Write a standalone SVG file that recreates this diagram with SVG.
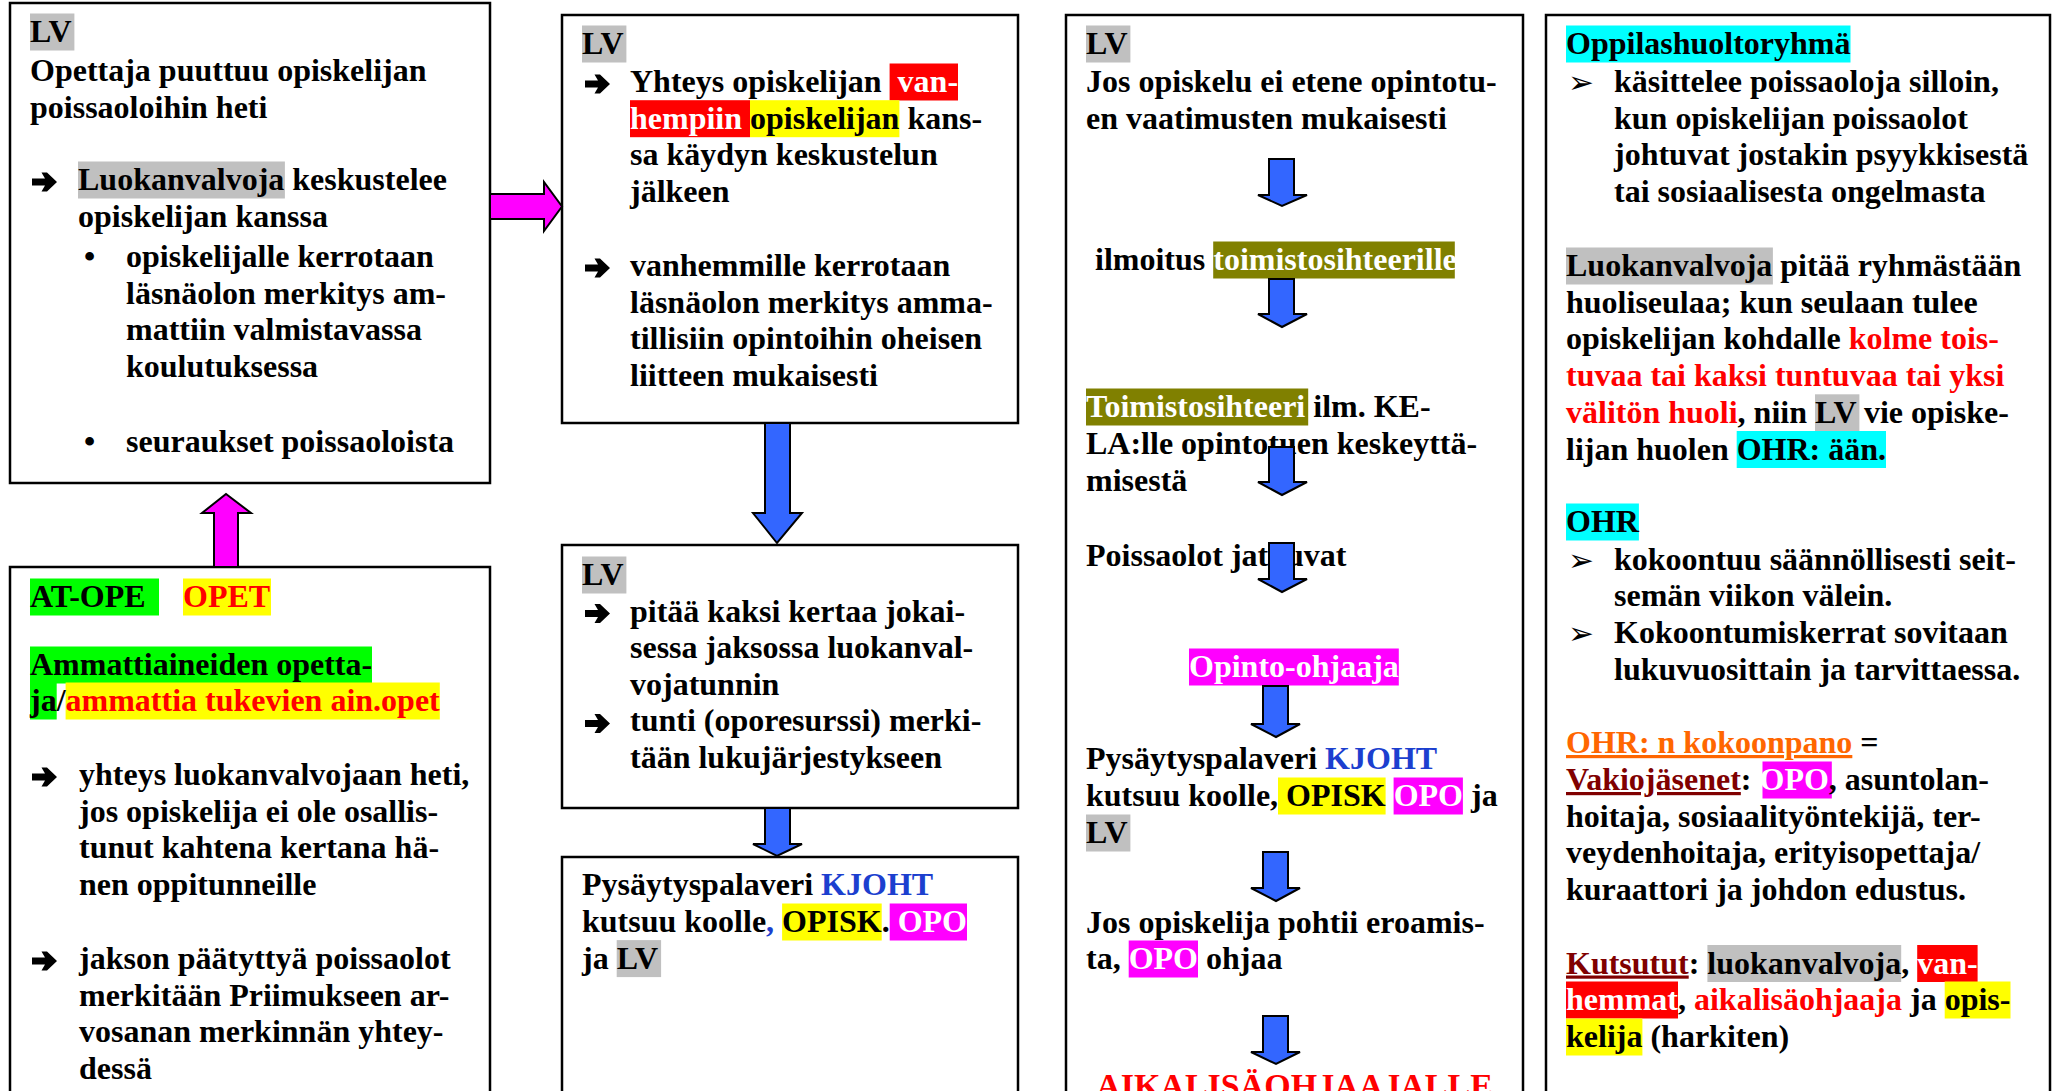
<svg xmlns="http://www.w3.org/2000/svg" xmlns:xlink="http://www.w3.org/1999/xlink" width="2054" height="1091" viewBox="0 0 2054 1091">
<style>
.box{fill:#fff;stroke:#000;stroke-width:2.5}
text{font-family:"Liberation Serif","Times New Roman",serif;font-weight:bold;font-size:32px;fill:#000}
.sym{font-family:"DejaVu Sans",sans-serif;font-weight:normal;font-size:31px}
.wt{fill:#fff}
.rd{fill:#f00}
.bu{fill:#1c3fcf}
.or{fill:#ff6600;text-decoration:underline}
.dr{fill:#800000;text-decoration:underline}
.hg{fill:#c0c0c0}
.hy{fill:#ffff00}
.hgr{fill:#00ff00}
.hr{fill:#ff0000}
.hm{fill:#ff00ff}
.hc{fill:#00ffff}
.ho{fill:#808000}
.ab{fill:#3366ff;stroke:#000;stroke-width:2;stroke-linejoin:miter}
.am{fill:#ff00ff;stroke:#000;stroke-width:2;stroke-linejoin:miter}
</style>
<defs>
<polygon id="barr" fill="#000" points="0,-11.5 13,-11.5 9.5,-17.5 15,-17.5 25,-8 15,1.5 9.5,1.5 13,-4.5 0,-4.5"/>
</defs>
<rect width="2054" height="1091" fill="#fff"/>

<g id="node-lv-opettaja">
<rect class="box" x="10" y="3" width="480" height="480"/>
<rect class="hg" x="30" y="13.5" width="44.4" height="37"/>
<text x="30" y="42">LV</text>
<text x="30" y="81">Opettaja puuttuu opiskelijan</text>
<text x="30" y="117.5">poissaoloihin heti</text>
<use xlink:href="#barr" x="32" y="190"/>
<rect class="hg" x="78" y="161.5" width="206.9" height="37"/>
<text x="78" y="190">Luokanvalvoja keskustelee</text>
<text x="78" y="226.5">opiskelijan kanssa</text>
<text x="84" y="267">•</text>
<text x="126" y="267">opiskelijalle kerrotaan</text>
<text x="126" y="303.5">läsnäolon merkitys am-</text>
<text x="126" y="340">mattiin valmistavassa</text>
<text x="126" y="376.5">koulutuksessa</text>
<text x="84" y="452">•</text>
<text x="126" y="452">seuraukset poissaoloista</text>
</g>

<g id="node-at-ope">
<rect class="box" x="10" y="567" width="480" height="540"/>
<rect class="hgr" x="30" y="578.5" width="129" height="37"/>
<rect class="hy" x="183" y="578.5" width="88" height="37"/>
<text x="30" y="607">AT-OPE</text>
<text class="rd" x="183" y="607">OPET</text>
<rect class="hgr" x="30" y="646.5" width="342" height="37"/>
<text x="30" y="675">Ammattiaineiden opetta-</text>
<rect class="hgr" x="30" y="682.5" width="26.7" height="37"/>
<rect class="hy" x="65.6" y="682.5" width="374.2" height="37"/>
<text x="30" y="711">ja/<tspan class="rd">ammattia tukevien ain.opet</tspan></text>
<use xlink:href="#barr" x="32" y="785"/>
<text x="79" y="785">yhteys luokanvalvojaan heti,</text>
<text x="79" y="821.5">jos opiskelija ei ole osallis-</text>
<text x="79" y="858">tunut kahtena kertana hä-</text>
<text x="79" y="894.5">nen oppitunneille</text>
<use xlink:href="#barr" x="32" y="969"/>
<text x="79" y="969">jakson päätyttyä poissaolot</text>
<text x="79" y="1005.5">merkitään Priimukseen ar-</text>
<text x="79" y="1042">vosanan merkinnän yhtey-</text>
<text x="79" y="1078.5">dessä</text>
</g>

<g id="node-lv-vanhemmat">
<rect class="box" x="562" y="15" width="456" height="408"/>
<rect class="hg" x="582" y="25.5" width="44.4" height="37"/>
<text x="582" y="54">LV</text>
<use xlink:href="#barr" x="585" y="92"/>
<text x="630" y="92">Yhteys opiskelijan</text>
<rect class="hr" x="889.6" y="63.5" width="68.4" height="37"/>
<text class="wt" x="897.6" y="92">van-</text>
<rect class="hr" x="630" y="100.2" width="120" height="37"/>
<rect class="hy" x="750" y="100.2" width="149.4" height="37"/>
<text x="630" y="128.7"><tspan class="wt">hempiin</tspan> opiskelijan kans-</text>
<text x="630" y="165.4">sa käydyn keskustelun</text>
<text x="630" y="202">jälkeen</text>
<use xlink:href="#barr" x="585" y="276"/>
<text x="630" y="276">vanhemmille kerrotaan</text>
<text x="630" y="312.7">läsnäolon merkitys amma-</text>
<text x="630" y="349.4">tillisiin opintoihin oheisen</text>
<text x="630" y="386">liitteen mukaisesti</text>
</g>

<g id="node-lv-tunti">
<rect class="box" x="562" y="545" width="456" height="263"/>
<rect class="hg" x="582" y="556.5" width="44.4" height="37"/>
<text x="582" y="585">LV</text>
<use xlink:href="#barr" x="585" y="621.5"/>
<text x="630" y="621.5">pitää kaksi kertaa jokai-</text>
<text x="630" y="658">sessa jaksossa luokanval-</text>
<text x="630" y="694.7">vojatunnin</text>
<use xlink:href="#barr" x="585" y="731.4"/>
<text x="630" y="731.4">tunti (oporesurssi) merki-</text>
<text x="630" y="768">tään lukujärjestykseen</text>
</g>

<g id="node-pysaytys">
<rect class="box" x="562" y="857" width="456" height="250"/>
<text x="582" y="895">Pysäytyspalaveri <tspan class="bu">KJOHT</tspan></text>
<rect class="hy" x="782.1" y="903.5" width="99.6" height="37"/>
<rect class="hm" x="889.7" y="903.5" width="77.3" height="37"/>
<text x="582" y="932">kutsuu koolle<tspan class="bu">,</tspan> OPISK. <tspan class="wt">OPO</tspan></text>
<rect class="hg" x="616.7" y="940.1" width="44.4" height="37"/>
<text x="582" y="968.6">ja LV</text>
</g>

<g id="node-lv-opinnot">
<rect class="box" x="1066" y="15" width="457" height="1100"/>
<rect class="hg" x="1086" y="25.5" width="44.4" height="37"/>
<text x="1086" y="54">LV</text>
<text x="1086" y="92">Jos opiskelu ei etene opintotu-</text>
<text x="1086" y="129">en vaatimusten mukaisesti</text>
<rect class="ho" x="1213.2" y="241.5" width="241.6" height="37"/>
<text x="1095" y="270">ilmoitus <tspan class="wt">toimistosihteerille</tspan></text>
<rect class="ho" x="1086" y="388.5" width="222.2" height="37"/>
<text x="1086" y="417"><tspan class="wt">Toimistosihteeri</tspan> ilm. KE-</text>
<text x="1086" y="454">LA:lle opintotuen keskeyttä-</text>
<text x="1086" y="490.5">misestä</text>
<text x="1086" y="566">Poissaolot jatkuvat</text>
<rect class="hm" x="1189" y="648.5" width="209.8" height="37"/>
<text class="wt" x="1189" y="677">Opinto-ohjaaja</text>
<text x="1086" y="769">Pysäytyspalaveri <tspan class="bu">KJOHT</tspan></text>
<rect class="hy" x="1278" y="777.5" width="107.6" height="37"/>
<rect class="hm" x="1393.6" y="777.5" width="69.3" height="37"/>
<text x="1086" y="806">kutsuu koolle, OPISK <tspan class="wt">OPO</tspan> ja</text>
<rect class="hg" x="1086" y="814.5" width="44.4" height="37"/>
<text x="1086" y="843">LV</text>
<text x="1086" y="933">Jos opiskelija pohtii eroamis-</text>
<rect class="hm" x="1128.7" y="940.5" width="69.3" height="37"/>
<text x="1086" y="969">ta, <tspan class="wt">OPO</tspan> ohjaa</text>
<text class="rd" x="1294.5" y="1097" text-anchor="middle" style="font-size:34px">AIKALISÄOHJAAJALLE</text>
</g>

<g id="node-ohr">
<rect class="box" x="1546" y="15" width="504" height="1100"/>
<rect class="hc" x="1566" y="25.5" width="284.5" height="37"/>
<text x="1566" y="54">Oppilashuoltoryhmä</text>
<text class="sym" x="1568" y="93">➢</text>
<text x="1614" y="92">käsittelee poissaoloja silloin,</text>
<text x="1614" y="128.7">kun opiskelijan poissaolot</text>
<text x="1614" y="165.4">johtuvat jostakin psyykkisestä</text>
<text x="1614" y="202">tai sosiaalisesta ongelmasta</text>
<rect class="hg" x="1566" y="247.5" width="206.9" height="37"/>
<text x="1566" y="276">Luokanvalvoja pitää ryhmästään</text>
<text x="1566" y="312.7">huoliseulaa; kun seulaan tulee</text>
<text x="1566" y="349.4">opiskelijan kohdalle <tspan class="rd">kolme tois-</tspan></text>
<text class="rd" x="1566" y="386">tuvaa tai kaksi tuntuvaa tai yksi</text>
<rect class="hg" x="1815" y="394.3" width="44.4" height="37"/>
<text x="1566" y="422.8"><tspan class="rd">välitön huoli</tspan>, niin LV vie opiske-</text>
<rect class="hc" x="1736.7" y="431" width="149.3" height="37"/>
<text x="1566" y="459.5">lijan huolen OHR: ään.</text>
<rect class="hc" x="1566" y="503.5" width="72.9" height="37"/>
<text x="1566" y="532">OHR</text>
<text class="sym" x="1568" y="570.5">➢</text>
<text x="1614" y="569.5">kokoontuu säännöllisesti seit-</text>
<text x="1614" y="606">semän viikon välein.</text>
<text class="sym" x="1568" y="644">➢</text>
<text x="1614" y="643">Kokoontumiskerrat sovitaan</text>
<text x="1614" y="679.5">lukuvuosittain ja tarvittaessa.</text>
<text x="1566" y="753"><tspan class="or">OHR: n kokoonpano</tspan> =</text>
<rect class="hm" x="1762.5" y="761.5" width="69.3" height="37"/>
<text x="1566" y="790"><tspan class="dr">Vakiojäsenet</tspan>: <tspan class="wt">OPO</tspan>, asuntolan-</text>
<text x="1566" y="826.5">hoitaja, sosiaalityöntekijä, ter-</text>
<text x="1566" y="863">veydenhoitaja, erityisopettaja/</text>
<text x="1566" y="900">kuraattori ja johdon edustus.</text>
<rect class="hg" x="1707.4" y="945" width="193.8" height="37"/>
<rect class="hr" x="1917.2" y="945" width="60.4" height="37"/>
<text x="1566" y="973.5"><tspan class="dr">Kutsutut</tspan>: luokanvalvoja, <tspan class="wt">van-</tspan></text>
<rect class="hr" x="1566" y="981.5" width="112" height="37"/>
<rect class="hy" x="1944.7" y="981.5" width="65.8" height="37"/>
<text x="1566" y="1010"><tspan class="wt">hemmat</tspan>, <tspan class="rd">aikalisäohjaaja</tspan> ja opis-</text>
<rect class="hy" x="1566" y="1018.5" width="76.4" height="37"/>
<text x="1566" y="1047">kelija (harkiten)</text>
</g>

<g id="connectors">
<polygon class="am" points="490,194 544,194 544,182 562,206.5 544,231 544,219 490,219"/>
<polygon class="am" points="214,567 214,513 202,513 226,494 251,513 238,513 238,567"/>
<polygon class="ab" points="765,423 790,423 790,513 802,513 777,543 753,513 765,513"/>
<polygon class="ab" points="765,808 790,808 790,844 802,844 777,856 753,844 765,844"/>
<polygon class="ab" points="1269,159 1294,159 1294,195 1307,195 1282,206 1258,195 1269,195"/>
<polygon class="ab" points="1269,279 1294,279 1294,314 1307,314 1282,327 1258,314 1269,314"/>
<polygon class="ab" points="1269,447 1294,447 1294,482 1307,482 1282,495 1258,482 1269,482"/>
<polygon class="ab" points="1269,543 1294,543 1294,579 1307,579 1282,592 1258,579 1269,579"/>
<polygon class="ab" points="1263,686 1288,686 1288,724 1300,724 1276,737 1251,724 1263,724"/>
<polygon class="ab" points="1263,852 1288,852 1288,888 1300,888 1276,901 1251,888 1263,888"/>
<polygon class="ab" points="1263,1016 1288,1016 1288,1052 1300,1052 1276,1064 1251,1052 1263,1052"/>
</g>
</svg>
